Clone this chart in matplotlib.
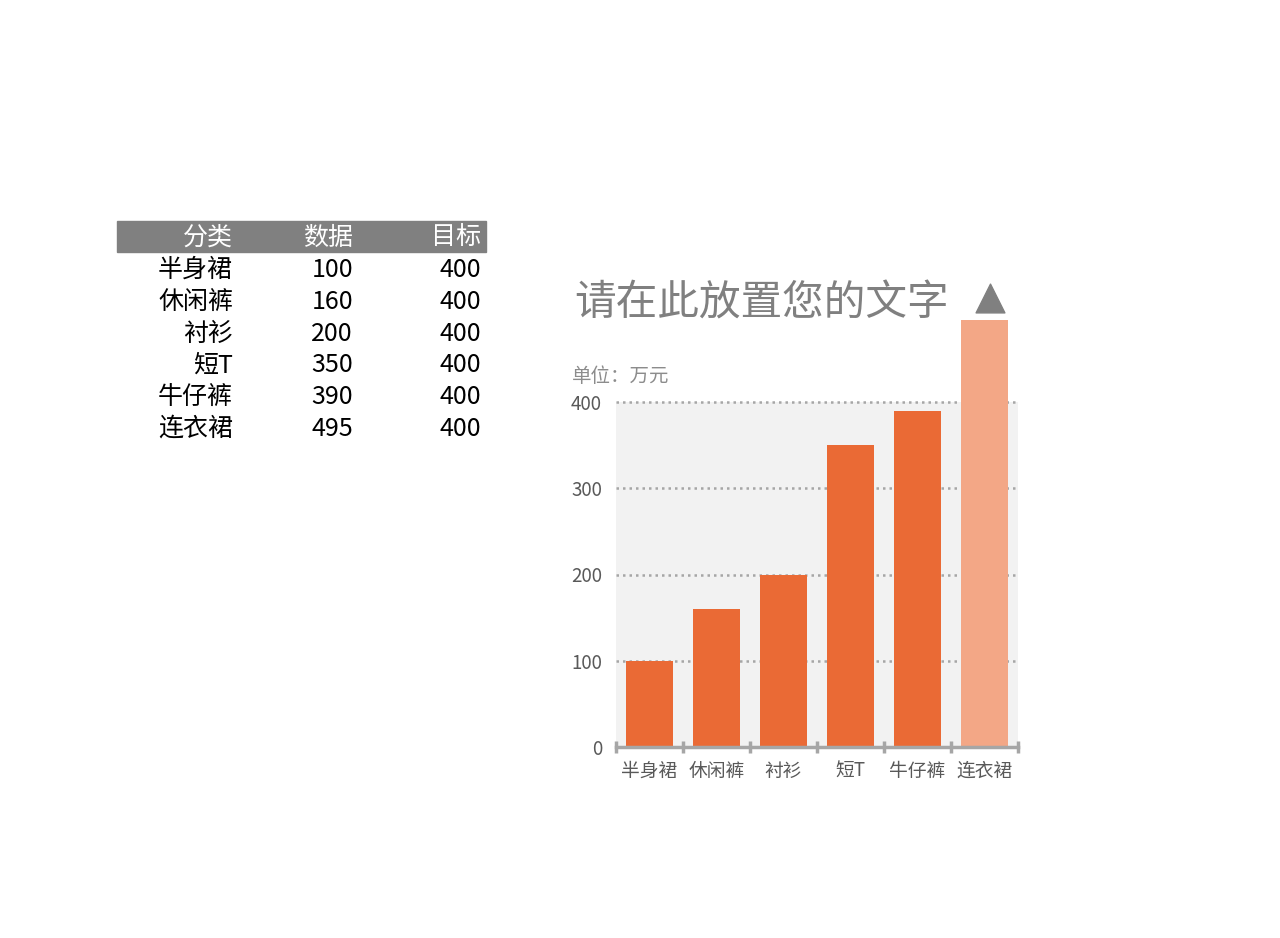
import matplotlib
matplotlib.use('Agg')
from matplotlib import pyplot as plt
from matplotlib.patches import Rectangle

plt.rcParams['font.family'] = ['Noto Sans CJK SC', 'DejaVu Sans']

# dados da tabela / gráfico
categories = ['半身裙', '休闲裤', '衬衫', '短T', '牛仔裤', '连衣裙']
values = [100, 160, 200, 350, 390, 495]
targets = [400, 400, 400, 400, 400, 400]
headers = ['分类', '数据', '目标']
y_ticks = [0, 100, 200, 300, 400]

W, H = 1280, 938
fig = plt.figure(figsize=(W / 100, H / 100), dpi=100)


def fx(px):
    return px / W


def fy(py):
    return 1 - py / H


# tabela à esquerda
fig.patches.append(Rectangle((fx(117), fy(252)), fx(486) - fx(117), fy(221) - fy(252),
                             transform=fig.transFigure, color='#808080', zorder=0))
col_x = [233, 353, 481]
for cx, h in zip(col_x, headers):
    fig.text(fx(cx), fy(238), h, color='white', fontsize=18, ha='right', va='center')
row_y0, row_step = 270, 31.8
for i, (c, v, t) in enumerate(zip(categories, values, targets)):
    ry = fy(row_y0 + i * row_step)
    fig.text(fx(col_x[0]), ry, c, color='black', fontsize=18, ha='right', va='center')
    fig.text(fx(col_x[1]), ry, str(v), color='black', fontsize=18, ha='right', va='center')
    fig.text(fx(col_x[2]), ry, str(t), color='black', fontsize=18, ha='right', va='center')

# gráfico de barras
ymax = 540
ax_left, ax_right, ax_bottom = 616, 1018, 747
px_per_unit = 345 / 400
ax_top = ax_bottom - ymax * px_per_unit
ax = fig.add_axes([fx(ax_left), fy(ax_bottom), fx(ax_right) - fx(ax_left), fy(ax_top) - fy(ax_bottom)])

x = list(range(len(categories)))
ax.bar(x, targets, width=1.0, color='#f2f2f2', zorder=1)
for yt in y_ticks[1:]:
    ax.axhline(yt, color='#a6a6a6', linewidth=1.8, linestyle=(0, (1, 1.6)), zorder=2)
colors = ['#ea6a35'] * (len(values) - 1) + ['#f3a786']
ax.bar(x, values, width=0.7, color=colors, zorder=3)

# marcador triângulo acima da maior barra
imax = values.index(max(values))
ax.scatter([imax + 0.08], [values[imax] + 25], marker='^', s=430, color='#808080', zorder=4, clip_on=False)

ax.set_xlim(-0.5, len(categories) - 0.5)
ax.set_ylim(0, ymax)
ax.set_facecolor('none')
for s in ['top', 'right', 'left']:
    ax.spines[s].set_visible(False)
ax.spines['bottom'].set_color('#a6a6a6')
ax.spines['bottom'].set_linewidth(2.5)
ax.spines['bottom'].set_zorder(5)

ax.set_yticks(y_ticks)
ax.set_yticklabels([str(v) for v in y_ticks], fontsize=13.5, color='#595959')
ax.tick_params(axis='y', length=0, pad=10)

ax.set_xticks(x)
ax.set_xticklabels(categories, fontsize=13.5, color='#595959')
ax.tick_params(axis='x', which='major', length=0, pad=10)
ax.set_xticks([i - 0.5 for i in range(len(categories) + 1)], minor=True)
ax.tick_params(axis='x', which='minor', direction='inout', length=9, width=2.5, color='#a6a6a6')

fig.text(fx(574), fy(304), '请在此放置您的文字', fontsize=30, color='#808080', ha='left', va='center')
fig.text(fx(572), fy(377), '单位：万元', fontsize=14, color='#8c8c8c', ha='left', va='center')

fig.savefig('out.png', dpi=100)
